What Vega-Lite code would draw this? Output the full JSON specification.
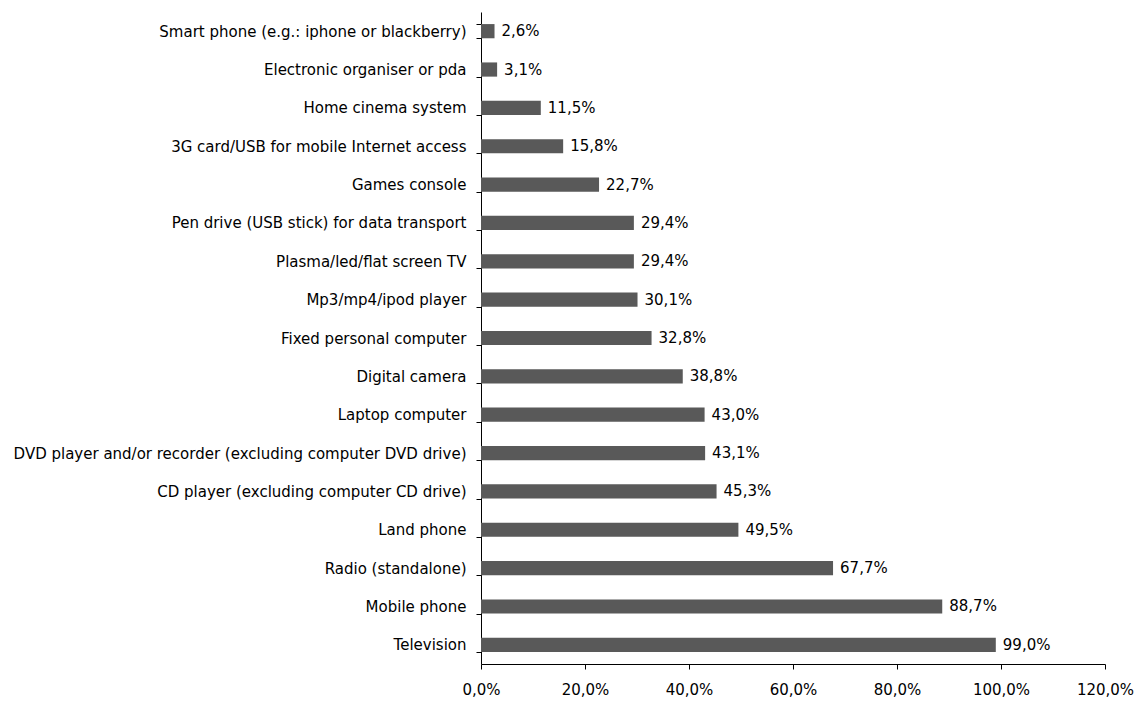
{
  "$schema": "https://vega.github.io/schema/vega-lite/v6.json",
  "width": 624,
  "height": 652,
  "autosize": {"type": "none"},
  "padding": {"left": 481, "top": 12, "right": 35, "bottom": 38},
  "background": "white",
  "config": {
    "view": {"stroke": null},
    "font": "DejaVu Sans",
    "locale": {"number": {"decimal": ",", "thousands": ".", "grouping": [3], "currency": ["", " €"]}},
    "axis": {"domainColor": "#000000", "tickColor": "#000000", "labelColor": "#000000", "labelFont": "DejaVu Sans", "labelFontSize": 15, "grid": false, "title": null}
  },
  "data": {
    "values": [
      {"item": "Smart phone (e.g.: iphone or blackberry)", "share": 0.026},
      {"item": "Electronic organiser or pda", "share": 0.031},
      {"item": "Home cinema system", "share": 0.115},
      {"item": "3G card/USB for mobile Internet access", "share": 0.158},
      {"item": "Games console", "share": 0.227},
      {"item": "Pen drive (USB stick) for data transport ", "share": 0.294},
      {"item": "Plasma/led/flat screen TV", "share": 0.294},
      {"item": "Mp3/mp4/ipod player", "share": 0.301},
      {"item": "Fixed personal computer ", "share": 0.328},
      {"item": "Digital camera", "share": 0.388},
      {"item": "Laptop computer", "share": 0.430},
      {"item": "DVD player and/or recorder (excluding computer DVD drive)", "share": 0.431},
      {"item": "CD player (excluding computer CD drive)", "share": 0.453},
      {"item": "Land phone", "share": 0.495},
      {"item": "Radio (standalone)", "share": 0.677},
      {"item": "Mobile phone", "share": 0.887},
      {"item": "Television", "share": 0.990}
    ]
  },
  "encoding": {
    "y": {
      "field": "item", "type": "nominal", "sort": null,
      "scale": {"paddingInner": 0.63, "paddingOuter": 0.315},
      "axis": {"tickBand": "extent", "tickSize": 5, "labelPadding": 10, "domainWidth": 1, "tickWidth": 1, "labelLimit": 0}
    },
    "x": {
      "field": "share", "type": "quantitative",
      "scale": {"domain": [0, 1.2], "nice": false},
      "axis": {"values": [0, 0.2, 0.4, 0.6, 0.8, 1.0, 1.2], "format": ".1%", "tickSize": 5, "labelPadding": 13, "labelFlush": false}
    }
  },
  "layer": [
    {"mark": {"type": "bar", "color": "#595959"}},
    {
      "mark": {"type": "text", "align": "left", "baseline": "middle", "dx": 7, "fontSize": 15, "color": "#000000", "font": "DejaVu Sans"},
      "encoding": {"text": {"field": "share", "type": "quantitative", "format": ".1%"}}
    }
  ]
}
